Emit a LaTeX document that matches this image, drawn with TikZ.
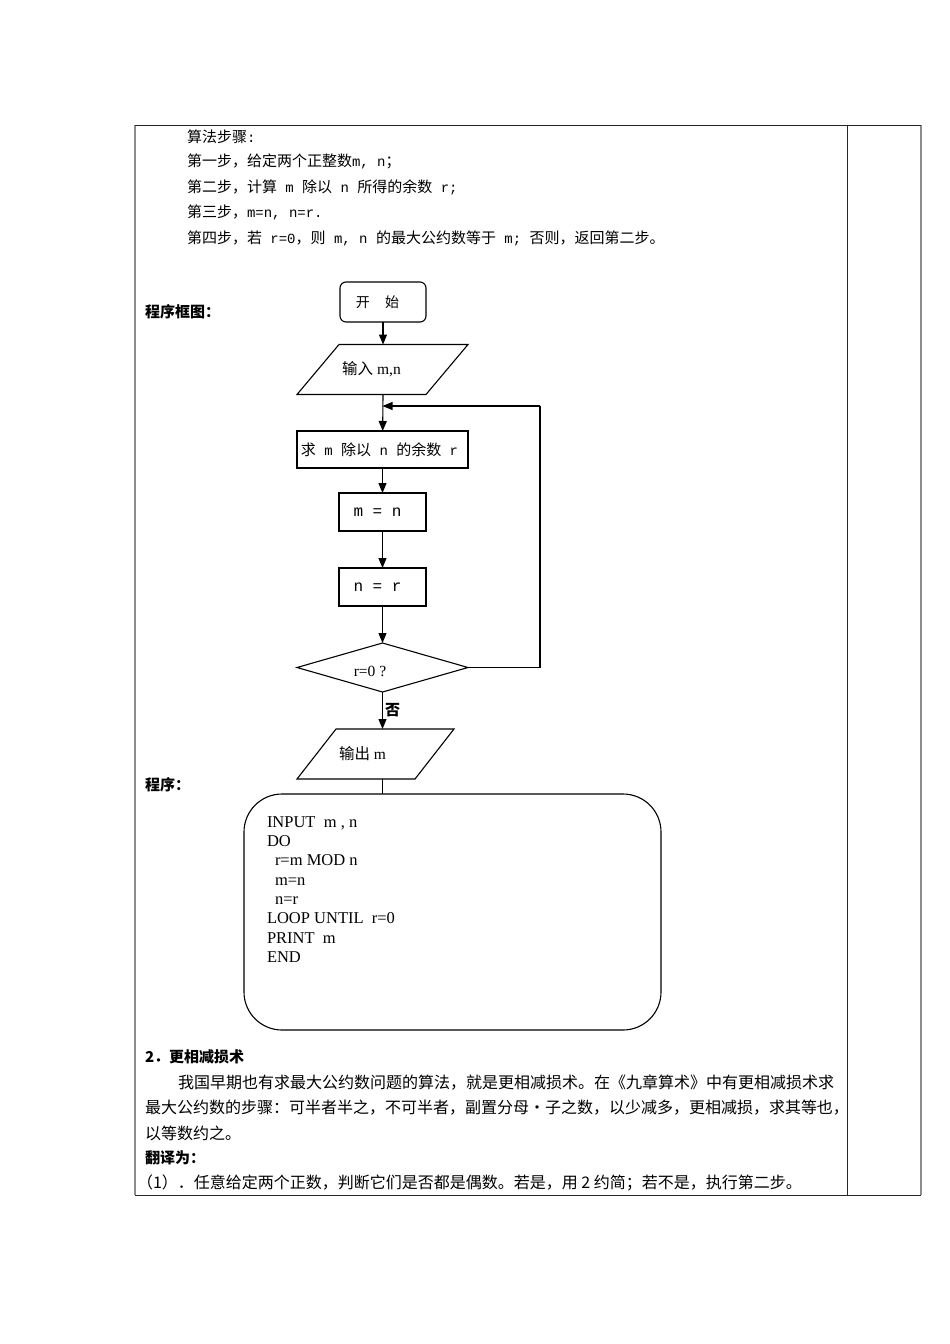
\documentclass[tikz,border=0pt]{standalone}
\usepackage{fontspec}
\setmainfont{Liberation Serif}
\newfontfamily\cjk{Noto Sans CJK SC}
\newfontfamily\monof{Liberation Mono}
\usetikzlibrary{arrows.meta}
\newcommand\zh[1]{{\cjk #1}}
\newcommand\mn[1]{{\monof\fontsize{14}{14}\selectfont #1}}
\newcommand\mnb[1]{{\monof\fontsize{16}{16}\selectfont #1}}
\newcommand\setfs[1]{\fontsize{#1}{#1}\selectfont}
\begin{document}
\begin{tikzpicture}[x=1pt,y=-1pt,
  every node/.style={inner sep=0pt, outer sep=0pt},
  flow/.style={line width=1.1pt, draw=black},
  arr/.style={flow, -{Triangle[length=10pt,width=8pt]}},
  procbox/.style={draw=black, line width=1.1pt, minimum width=#1},
  shapenode/.style={minimum width=#1},
  bodytext/.style={anchor=west, font=\cjk\setfs{15}},
  paratext/.style={anchor=west, font=\cjk\setfs{16}},
  headtext/.style={anchor=west, font=\cjk\bfseries\setfs{15}},
  tableline/.style={line width=1pt, draw=black!85},
  tableedge/.style={line width=1.3pt, draw=black!45}
]
\useasboundingbox (0,0) rectangle (950,1344);
\fill[white] (0,0) rectangle (950,1344);

% table
\coordinate (tl) at (135,125);
\coordinate (tr) at (921,125);
\coordinate (bl) at (135,1195);
\coordinate (br) at (921,1195);
\coordinate (mt) at (847,125);
\coordinate (mb) at (847,1195);
\draw[tableedge] (tl) -- (bl);
\draw[tableedge] (tr) -- (br);
\draw[tableline] (tl) -- (tr);
\draw[tableline] (bl) -- (br);
\draw[tableline] (mt) -- (mb);

% algorithm steps
\node[bodytext] (t1) at (187,137) {算法步骤\mn{:}};
\node[bodytext] (t2) at (187,161) {第一步，给定两个正整数\mn{m, n}；};
\node[bodytext] (t3) at (187,187) {第二步，计算\mn{ m }除以\mn{ n }所得的余数\mn{ r;}};
\node[bodytext] (t4) at (187,212) {第三步，\mn{m=n,  n=r.}};
\node[bodytext] (t5) at (187,238) {第四步，若\mn{ r=0}，则\mn{ m, n }的最大公约数等于\mn{ m; }否则，返回第二步。};

\node[headtext] (h1) at (145,312) {程序框图：};

% flowchart
\node[procbox=86pt, minimum height=40pt, rounded corners=6pt, font=\cjk\setfs{14}] (start) at (383,302) {\hspace*{-11pt}开\hspace{1.1em}始};

\node[shapenode=171pt, minimum height=50pt, font=\setfs{15.5}] (in) at (382.5,369.5) {\hspace*{-22pt}\zh{输入} m,n};
\draw[flow] ([xshift=42pt]in.north west) -- (in.north east) -- ([xshift=-42pt]in.south east) -- (in.south west) -- cycle;

\node[procbox=171pt, minimum height=37pt, font=\cjk\setfs{15}] (r1) at (382.5,449.5) {\hspace*{-6pt}求\mn{ m }除以\mn{ n }的余数\mn{ r}};
\node[procbox=87pt, minimum height=38pt] (r2) at (382.5,512) {\hspace*{-10pt}\mnb{m = n}};
\node[procbox=87pt, minimum height=38pt] (r3) at (382.5,587) {\hspace*{-10pt}\mnb{n = r}};

\node[shapenode=171pt, minimum height=49pt, font=\setfs{15.5}] (dec) at (382.5,667.5) {\raisebox{-9pt}[0pt][0pt]{\hspace*{-25pt}r=0 ?}};
\draw[flow] (dec.north) -- (dec.east) -- (dec.south) -- (dec.west) -- cycle;

\node[shapenode=157pt, minimum height=50pt, font=\setfs{15.5}] (out) at (375.5,754) {\hspace*{-26pt}\zh{输出} m};
\draw[flow] ([xshift=39pt]out.north west) -- (out.north east) -- ([xshift=-39pt]out.south east) -- (out.south west) -- cycle;

\node[anchor=west, font=\cjk\bfseries\setfs{15}] (no) at (385,710) {否};

\node[headtext] (h2) at (145,785) {程序：};

% code box
\node[draw=black, line width=1.1pt, rounded corners=38pt, minimum width=417pt, minimum height=236pt] (code) at (452.5,912) {};
\node[anchor=north west, align=left, font=\fontsize{16.5}{19.3}\selectfont] (codetext) at (267,816.5)
 {INPUT\ \ m , n\\ DO\\ \hspace*{8pt}r=m MOD n\\ \hspace*{8pt}m=n\\ \hspace*{8pt}n=r\\ LOOP UNTIL\ \ r=0\\ PRINT\ \ m\\ END};

% connectors
\coordinate (loop) at (540,406);
\draw[arr] (start) -- (in.north -| start);
\draw[arr] (in.south -| start) -- (r1);
\draw[arr] (r1) -- (r2);
\draw[arr] (r2) -- (r3);
\draw[arr] (r3) -- (dec.north);
\draw[flow] (dec.east) -| (loop);
\draw[arr] (loop) -- (loop -| r1.north);
\draw[arr] (dec.south) -- (dec.south |- out.north);
\draw[flow] (dec.south |- out.south) -- (dec.south |- code.north);

% bottom text
\node[anchor=west, font=\cjk\bfseries\setfs{15}] (h3) at (145,1057) {2．更相减损术};
\node[paratext] (p1) at (178,1083) {我国早期也有求最大公约数问题的算法，就是更相减损术。在《九章算术》中有更相减损术求};
\node[paratext] (p2) at (145,1108) {最大公约数的步骤：可半者半之，不可半者，副置分母•子之数，以少减多，更相减损，求其等也，};
\node[paratext] (p3) at (145,1133) {以等数约之。};
\node[headtext] (h4) at (145,1158) {翻译为：};
\node[paratext] (p4) at (137,1183) {（1）．任意给定两个正数，判断它们是否都是偶数。若是，用 2 约简；若不是，执行第二步。};
\end{tikzpicture}
\end{document}
